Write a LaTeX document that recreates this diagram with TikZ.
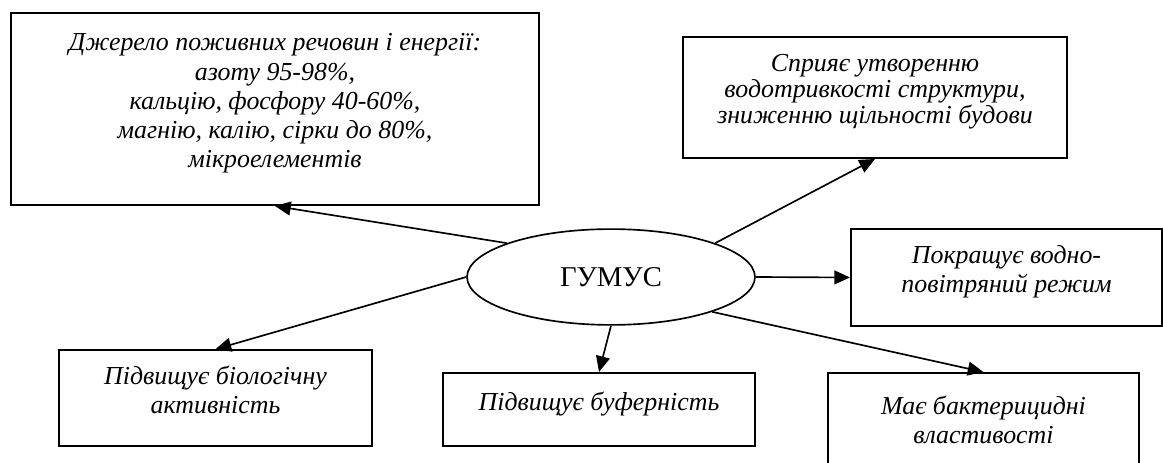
\documentclass[tikz,border=0pt]{standalone}
\usepackage{fontspec}
\setmainfont{Liberation Serif}
\usetikzlibrary{arrows.meta,shapes.geometric}

\begin{document}
\begin{tikzpicture}[x=0.019cm,y=-0.019cm,
  box/.style={draw,line width=1pt,align=center,inner sep=0pt,text depth=9pt,
    font=\fontsize{14}{15.8}\selectfont\itshape},
  arr/.style={line width=0.9pt,-{Triangle[length=8.5pt,width=7.5pt]}}]
\useasboundingbox (0,0) rectangle (1163,463);
%\draw (0,0) grid[step=100] (1163,463);
\node[ellipse,draw,line width=0.9pt,inner sep=0pt,minimum width=5.47cm,minimum height=1.82cm,
  font=\fontsize{15.5}{17}\selectfont] (hum) at (611,277) {ГУМУС};

\node[box,minimum width=10.03cm,minimum height=3.65cm] (src) at (275,109)
  {Джерело поживних речовин і енергії:\\ азоту 95-98\%,\\ кальцію, фосфору 40-60\%,\\
   магнію, калію, сірки до 80\%,\\ мікроелементів};
\node[box,minimum width=7.30cm,minimum height=2.30cm,
  font=\fontsize{14}{14}\selectfont\itshape] (str) at (875,97.5)
  {Сприяє утворенню\\ водотривкості структури,\\ зниженню щільності будови};
\node[box,minimum width=5.91cm,minimum height=1.84cm] (air) at (1006.5,277.5)
  {Покращує водно-\\ повітряний режим};
\node[box,minimum width=5.91cm,minimum height=2.09cm] (bact) at (983.5,428)
  {Має бактерицидні\\ властивості};
\node[box,minimum width=5.93cm,minimum height=1.39cm] (buf) at (599,409.5)
  {Підвищує буферність};
\node[box,minimum width=5.95cm,minimum height=1.82cm] (bio) at (215.5,398)
  {Підвищує біологічну\\ активність};

\draw[arr] (hum.162) -- (src.south);
\draw[arr] (hum.18) -- (str.south);
\draw[arr] (hum.east) -- (air.west);
\draw[arr] (hum.-19) -- (bact.north);
\draw[arr] (hum.south) -- (buf.north);
\draw[arr] (hum.west) -- (bio.north);
\end{tikzpicture}
\end{document}
